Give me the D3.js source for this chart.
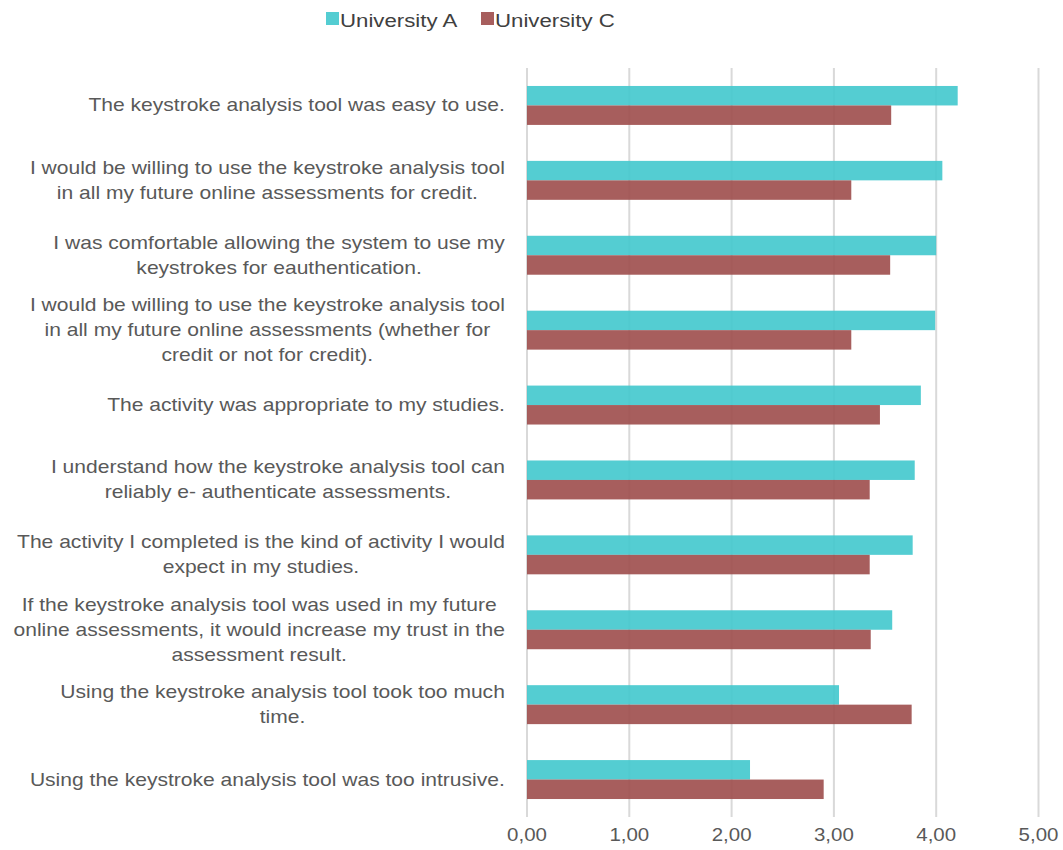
<html><head>
<title>Keystroke analysis survey</title>
<script src="https://d3js.org/d3.v7.min.js"></script>
<style>
  body { margin: 0; background: #fff; }
  text { font-family: "Liberation Sans", Arial, sans-serif; fill: #595959; }
  .grid line { stroke: #d9d9d9; stroke-width: 2px; }
</style>
</head>
<body>
<svg id="chart" width="1063" height="850"></svg>
<script>

// survey statements, line breaks as in the original chart
const statements = [
  ["The keystroke analysis tool was easy to use."],
  ["I would be willing to use the keystroke analysis tool", "in all my future online assessments for credit."],
  ["I was comfortable allowing the system to use my", "keystrokes for eauthentication."],
  ["I would be willing to use the keystroke analysis tool", "in all my future online assessments (whether for", "credit or not for credit)."],
  ["The activity was appropriate to my studies."],
  ["I understand how the keystroke analysis tool can", "reliably e- authenticate assessments."],
  ["The activity I completed is the kind of activity I would", "expect in my studies."],
  ["If the keystroke analysis tool was used in my future", "online assessments, it would increase my trust in the", "assessment result."],
  ["Using the keystroke analysis tool took too much", "time."],
  ["Using the keystroke analysis tool was too intrusive."]
];
const universityA = [4.21, 4.06, 4.00, 3.99, 3.85, 3.79, 3.77, 3.57, 3.05, 2.18];
const universityC = [3.56, 3.17, 3.55, 3.17, 3.45, 3.35, 3.35, 3.36, 3.76, 2.90];
const seriesNames = ["University A", "University C"];
const xTicks = [0, 1, 2, 3, 4, 5];

const colors = ["#41c8cd", "#9d4c4b"];
// the original text is drawn noticeably wider than Arial
const stretch = 1.17;

const svg = d3.select("#chart");
const margin = { top: 68, right: 25, bottom: 33, left: 527 };
const plotW = 511.5;
const plotH = 850 - margin.top - margin.bottom;
const g = svg.append("g").attr("transform", "translate(" + margin.left + "," + margin.top + ")");

const x = d3.scaleLinear().domain([0, 5]).range([0, plotW]);
const y = d3.scaleBand().domain(d3.range(statements.length)).range([0, plotH]).paddingInner(0.48).paddingOuter(0.24);
const ySub = d3.scaleBand().domain([0, 1]).range([0, y.bandwidth()]);

// vertical gridlines
g.append("g").attr("class", "grid")
  .selectAll("line").data(xTicks).join("line")
  .attr("x1", d => x(d)).attr("x2", d => x(d))
  .attr("y1", 0).attr("y2", plotH);

// tick labels
g.selectAll("text.tick").data(xTicks).join("text")
  .attr("class", "tick")
  .attr("transform", d => "translate(" + x(d) + "," + (plotH + 24) + ") scale(" + stretch + ",1)")
  .attr("text-anchor", "middle")
  .style("font-size", "17.5px")
  .text(d => d3.format(".2f")(d).replace(".", ","));

// bars
const rows = statements.map((s, i) => ({ i, vals: [universityA[i], universityC[i]] }));
const rowG = g.selectAll("g.row").data(rows).join("g")
  .attr("class", "row")
  .attr("transform", d => "translate(0," + y(d.i) + ")");

rowG.selectAll("rect").data(d => d.vals.map((v, k) => ({ v, k }))).join("rect")
  .attr("x", 0)
  .attr("y", d => ySub(d.k))
  .attr("width", d => x(d.v))
  .attr("height", ySub.bandwidth())
  .attr("fill", d => colors[d.k])
  .attr("fill-opacity", 0.9);

// category labels: block right-aligned, lines centred inside the block
const lineH = 25;
const labelRight = 505;
statements.forEach((lines, i) => {
  const cy = margin.top + y(i) + y.bandwidth() / 2;
  const block = svg.append("g");
  const t = block.selectAll("text").data(lines).join("text")
    .style("font-size", "18px")
    .attr("text-anchor", "middle")
    .attr("y", (d, j) => cy + (j - (lines.length - 1) / 2) * lineH + 6)
    .text(d => d);
  let maxW = 0;
  t.each(function() { maxW = Math.max(maxW, this.getComputedTextLength()); });
  block.attr("transform", "translate(" + (labelRight - maxW * stretch / 2) + ",0) scale(" + stretch + ",1)");
});

// legend
const legend = svg.append("g");
const legendX = [326, 481];
seriesNames.forEach((name, k) => {
  legend.append("rect")
    .attr("x", legendX[k]).attr("y", 12)
    .attr("width", 13).attr("height", 13)
    .attr("fill", colors[k]).attr("fill-opacity", 0.9);
  legend.append("text")
    .attr("transform", "translate(" + (legendX[k] + 14) + ",27) scale(" + stretch + ",1)")
    .style("font-size", "19px")
    .style("fill", "#404040")
    .text(name);
});

</script>
</body>
</html>
